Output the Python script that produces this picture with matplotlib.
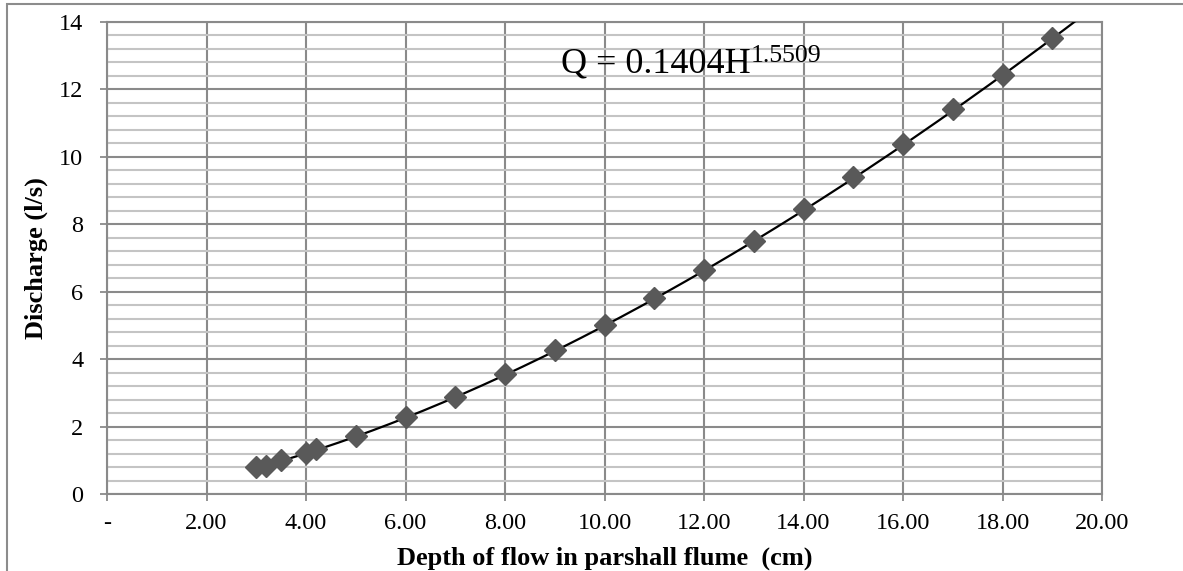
import matplotlib
matplotlib.use("Agg")
import matplotlib.pyplot as plt
import numpy as np
from matplotlib.patches import Rectangle

plt.rcParams["font.family"] = ["Liberation Serif", "DejaVu Serif"]

# depth of flow H (cm) and discharge Q (l/s)
depth = [3, 3.2, 3.5, 4, 4.2, 5, 6, 7, 8, 9, 10, 11, 12, 13, 14, 15, 16, 17, 18, 19]
discharge = [0.80, 0.84, 1.01, 1.22, 1.32, 1.72, 2.29, 2.89, 3.56, 4.27,
             5.00, 5.80, 6.64, 7.51, 8.44, 9.39, 10.38, 11.41, 12.44, 13.53]

# power trendline Q = a * H^b
coef_a = 0.1404
coef_b = 1.5509

xticks = [0, 2, 4, 6, 8, 10, 12, 14, 16, 18, 20]
xtick_labels = ["-", "2.00", "4.00", "6.00", "8.00", "10.00", "12.00",
                "14.00", "16.00", "18.00", "20.00"]
yticks = [0, 2, 4, 6, 8, 10, 12, 14]

W, H = 1183, 571
fig = plt.figure(figsize=(W / 100, H / 100), dpi=100)
ax = fig.add_axes([107 / W, 1 - 494 / H, (1102 - 107) / W, (494 - 22) / H])

# outer chart frame
fig.patches.append(Rectangle((7 / W, -0.1), 1.2, 1 - 4 / H + 0.1,
                             transform=fig.transFigure, fill=False,
                             edgecolor="#8c8c8c", lw=1.5))

major_c = "#8a8a8a"
minor_c = "#c4c4c4"

ax.set_xlim(0, 20)
ax.set_ylim(0, 14)
ax.set_xticks(xticks)
ax.set_xticklabels(xtick_labels)
ax.set_yticks(yticks)
ax.set_yticks(np.arange(0, 14.01, 0.4), minor=True)
ax.tick_params(axis="y", which="minor", length=0)
ax.tick_params(axis="both", which="major", length=5, width=1.3, color=major_c,
               labelsize=17.5, direction="out")
ax.tick_params(axis="x", pad=9)
ax.tick_params(axis="y", pad=12)

ax.grid(True, axis="y", which="minor", color=minor_c, lw=1.5)
ax.grid(True, axis="y", which="major", color=major_c, lw=1.5)
ax.grid(True, axis="x", which="major", color=major_c, lw=1.5)
ax.set_axisbelow(True)
for s in ax.spines.values():
    s.set_color(major_c)
    s.set_linewidth(1.5)

hh = np.linspace(min(depth), 20, 300)
ax.plot(hh, coef_a * hh ** coef_b, color="black", lw=1.6, zorder=3)
ax.plot(depth, discharge, linestyle="none", marker="D", ms=11,
        color="#595959", mec="#595959", zorder=4)

ax.set_xlabel("Depth of flow in parshall flume  (cm)", fontsize=19,
              fontweight="bold", labelpad=9)
ax.set_ylabel("Discharge (l/s)", fontsize=19, fontweight="bold", labelpad=8)

# trendline equation
t1 = fig.text(561 / W, 1 - 72 / H, "Q = %.4fH" % coef_a, fontsize=26,
              va="baseline", ha="left")
fig.canvas.draw()
bb = t1.get_window_extent()
fig.text(bb.x1 / W, 1 - 62 / H, "%.4f" % coef_b, fontsize=18.5,
         va="baseline", ha="left")

fig.savefig("out.png", dpi=100)
